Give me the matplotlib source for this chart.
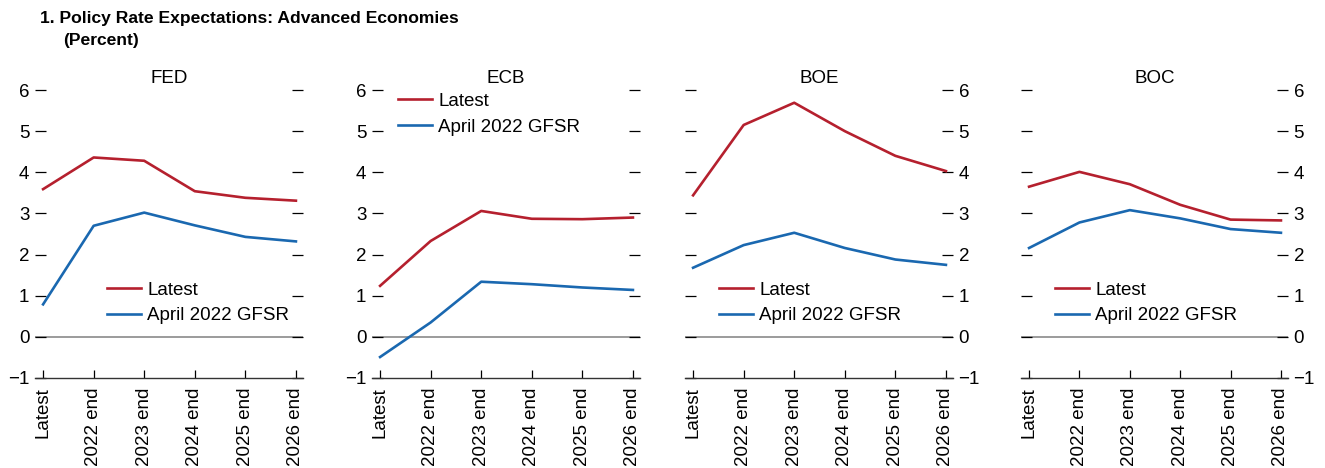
import matplotlib
matplotlib.use("Agg")
import matplotlib.pyplot as plt

plt.rcParams['font.family'] = ['Liberation Sans', 'DejaVu Sans']
plt.rcParams['font.size'] = 13.5

periods = ["Latest", "2022 end", "2023 end", "2024 end", "2025 end", "2026 end"]
banks = ["FED", "ECB", "BOE", "BOC"]

fed_latest = [3.59, 4.36, 4.28, 3.54, 3.38, 3.31]
fed_april = [0.79, 2.70, 3.02, 2.71, 2.43, 2.32]
ecb_latest = [1.24, 2.33, 3.06, 2.87, 2.86, 2.90]
ecb_april = [-0.49, 0.35, 1.34, 1.28, 1.20, 1.14]
boe_latest = [3.44, 5.15, 5.69, 5.00, 4.40, 4.03]
boe_april = [1.68, 2.23, 2.53, 2.16, 1.88, 1.75]
boc_latest = [3.65, 4.01, 3.71, 3.21, 2.85, 2.83]
boc_april = [2.16, 2.78, 3.08, 2.88, 2.62, 2.53]

latest = [fed_latest, ecb_latest, boe_latest, boc_latest]
april = [fed_april, ecb_april, boe_april, boc_april]

red = '#b5202e'
blue = '#1a68b0'

fig = plt.figure(figsize=(13.25, 4.68), dpi=100)

lefts = [35, 372, 685, 1021]
widths = [268, 268, 268, 267]
leg_x = [0.269, 0.097, 0.127, 0.127]
leg_y = [0.335, 0.99, 0.335, 0.335]

x = list(range(len(periods)))

for i in range(4):
    ax = fig.add_axes([lefts[i] / 1325, 1 - 378 / 468, widths[i] / 1325, 288 / 468])
    ax.plot(x, latest[i], color=red, lw=1.9, label="Latest")
    ax.plot(x, april[i], color=blue, lw=1.9, label="April 2022 GFSR")
    ax.axhline(0, color='#808080', lw=1.1, zorder=0)
    ax.set_xlim(-0.16, 5.14)
    ax.set_ylim(-1, 6)
    ax.set_yticks(range(-1, 7))
    ax.set_xticks(x)
    ax.set_xticklabels(periods, rotation=90)
    for s in ['top', 'left', 'right']:
        ax.spines[s].set_visible(False)
    ax.spines['bottom'].set_linewidth(1.0)
    ax.spines['bottom'].set_color('#333333')
    ax.tick_params(axis='y', direction='in', length=8, width=0.9, left=True, right=True,
                   labelleft=(i < 2), labelright=(i >= 2), pad=4, labelsize=13.5)
    ax.tick_params(axis='x', direction='in', length=6, width=0.9, pad=7, labelsize=13.5)
    ax.set_title(banks[i], fontsize=13.5, pad=5)
    ax.legend(loc='upper left', bbox_to_anchor=(leg_x[i], leg_y[i]), frameon=False,
              borderpad=0, borderaxespad=0, handlelength=1.8, handletextpad=0.35,
              labelspacing=0.45, fontsize=13.5)

fig.text(40 / 1325, 1 - 18 / 468, "1. Policy Rate Expectations: Advanced Economies",
         fontsize=12.6, fontweight='bold', va='center')
fig.text(63 / 1325, 1 - 41 / 468, "(Percent)", fontsize=12.6, fontweight='bold', va='center')

fig.savefig("out.png", dpi=100)
